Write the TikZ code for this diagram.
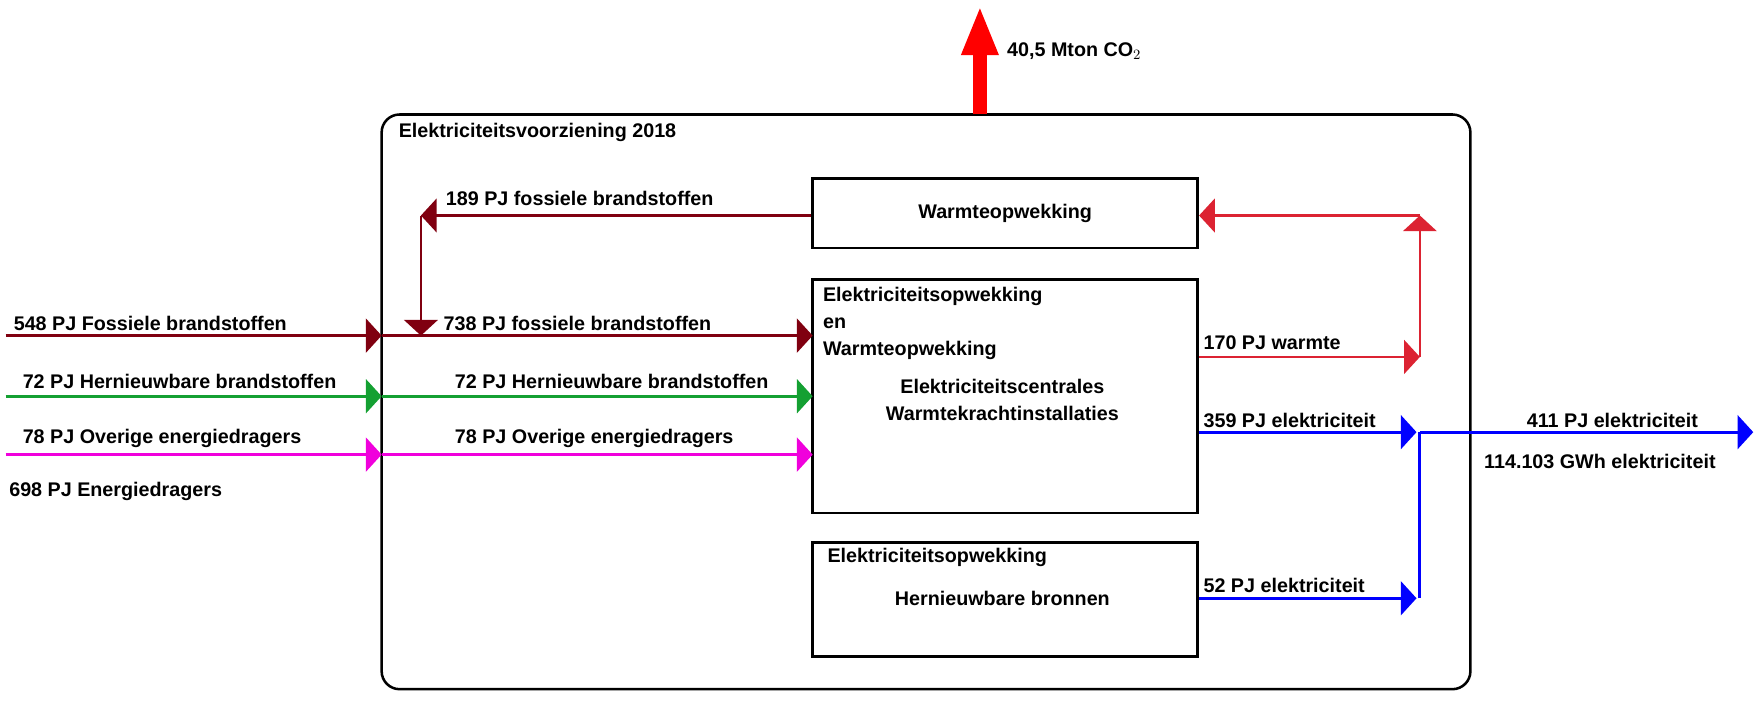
\documentclass[tikz,border=0pt]{standalone}
\usepackage{fontspec}
\setmainfont{Liberation Sans}
\usetikzlibrary{calc,positioning,arrows.meta}
\definecolor{fossred}{RGB}{128,0,16}
\definecolor{renewgreen}{RGB}{20,160,50}
\definecolor{othermag}{RGB}{240,0,220}
\definecolor{heatred}{RGB}{220,35,50}
\definecolor{elecblue}{RGB}{0,0,255}
\begin{document}
\begin{tikzpicture}[x=0.025cm,y=-0.025cm,
  every node/.style={font=\bfseries\fontsize{12.5}{17}\selectfont,inner sep=0pt},
  lbl/.style={anchor=west},
  unitbox/.style={draw,line width=1.8pt},
  flow/.style={line width=2pt,-{Triangle[length=0.35cm,width=0.75cm]}},
  ]
  \useasboundingbox (0,0) rectangle (1568,624);

  % outer frame
  \draw[line width=1.6pt,rounded corners=0.4cm] (340,102) rectangle (1310,614);
  \node (title) [lbl] at (355,118) {Elektriciteitsvoorziening 2018};

  % units
  \node (heat) [unitbox,minimum width=343*0.025cm,minimum height=62*0.025cm] at (895.5,190) {Warmteopwekking};
  \node (chp) [unitbox,minimum width=343*0.025cm,minimum height=208*0.025cm] at (895.5,353) {};
  \node (renew) [unitbox,minimum width=343*0.025cm,minimum height=102*0.025cm] at (895.5,534) {};
  \node (chp_title) [lbl,align=left] at (733,288) {Elektriciteitsopwekking\\en\\Warmteopwekking};
  \node (chp_sub) [align=center] at (893,356) {Elektriciteitscentrales\\Warmtekrachtinstallaties};
  \node (renew_title) [lbl] at (737,497) {Elektriciteitsopwekking};
  \node (renew_sub) at (893,533) {Hernieuwbare bronnen};

  % CO2
  \coordinate (co2_top) at (873,5);
  \draw[red,line width=9pt,-{Triangle[length=1.1cm,width=0.75cm]}] (873,102) -- (co2_top);
  \node (co2) [lbl] at (897,46) {40,5 Mton CO$_2$};

  % inputs
  \foreach \y/\c/\name in {299/fossred/foss, 353/renewgreen/ren, 405/othermag/oth}
  {
    \coordinate (\name_in) at (5,\y);
    \coordinate (\name_frame) at (340,\y);
    \coordinate (\name_unit) at (724,\y);
    \draw[flow,\c] (\name_in) -- (\name_frame);
    \draw[flow,\c] (\name_frame) -- (\name_unit);
  }
  \node (foss_lbl) [lbl] at (12,288) {548 PJ Fossiele brandstoffen};
  \node (foss_lbl2) [lbl] at (395,288) {738 PJ fossiele brandstoffen};
  \node (ren_lbl) [lbl] at (20,340) {72 PJ Hernieuwbare brandstoffen};
  \node (ren_lbl2) [lbl] at (405,340) {72 PJ Hernieuwbare brandstoffen};
  \node (oth_lbl) [lbl] at (20,391) {78 PJ Overige energiedragers};
  \node (oth_lbl2) [lbl] at (405,391) {78 PJ Overige energiedragers};
  \node (total_lbl) [lbl] at (8,438) {698 PJ Energiedragers};

  % return fuel
  \coordinate (ret_corner) at (375,192);
  \coordinate (ret_end) at (375,299);
  \draw[flow,fossred,line width=1.4pt] (heat.west |- ret_corner) -- (ret_corner);
  \draw[flow,fossred,line width=1.4pt] (ret_corner) -- (ret_end);
  \node (ret_lbl) [lbl] at (397,177) {189 PJ fossiele brandstoffen};

  % heat
  \coordinate (heat_low) at (1265,318);
  \coordinate (heat_high) at (1265,192);
  \draw[flow,heatred,line width=1.4pt] (chp.east |- heat_low) -- (heat_low);
  \draw[flow,heatred,line width=1.4pt] (heat_low) -- (heat_high);
  \draw[flow,heatred,line width=1.4pt] (heat_high) -- (heat.east |- heat_high);
  \node (heat_lbl) [lbl] at (1072,305) {170 PJ warmte};

  % electricity
  \coordinate (el_a) at (1262,385);
  \coordinate (el_b) at (1262,533);
  \coordinate (el_join) at (1265,385);
  \coordinate (el_out) at (1562,385);
  \draw[flow,elecblue] (chp.east |- el_a) -- (el_a);
  \draw[flow,elecblue] (renew.east |- el_b) -- (el_b);
  \draw[elecblue,line width=2pt] (1265,533) -- (el_join);
  \draw[flow,elecblue] (el_join) -- (el_out);
  \node (el_lbl1) [lbl] at (1072,375) {359 PJ elektriciteit};
  \node (el_lbl2) [lbl] at (1072,522) {52 PJ elektriciteit};
  \node (el_lbl3) [lbl] at (1360,375) {411 PJ elektriciteit};
  \node (el_lbl4) [lbl] at (1322,411) {114.103 GWh elektriciteit};
\end{tikzpicture}
\end{document}
